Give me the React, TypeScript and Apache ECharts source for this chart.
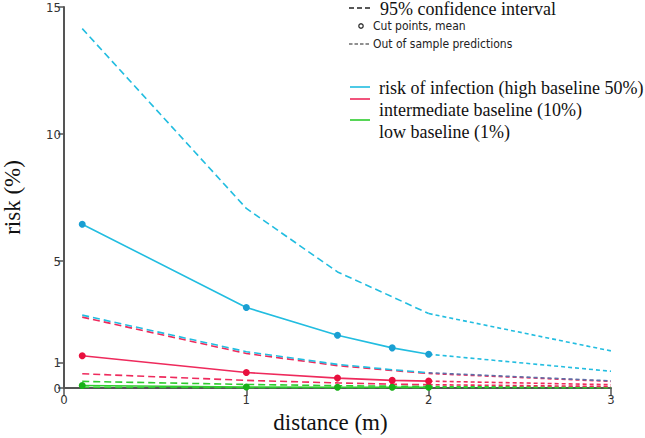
import React, { useEffect, useRef } from "react";
import * as echarts from "echarts";

const cutPoints = [0.1, 1, 1.5, 1.8, 2];
const outPoints = [2, 3];

const highMean = [6.45, 3.17, 2.08, 1.58, 1.33];
const highMeanOut = [1.33, 0.66];
const highUpper = [14.15, 7.07, 4.57, 3.59, 2.93];
const highUpperOut = [2.93, 1.46];
const highLower = [2.87, 1.43, 0.93, 0.72, 0.6];
const highLowerOut = [0.6, 0.28];

const midMean = [1.27, 0.61, 0.39, 0.3, 0.27];
const midMeanOut = [0.27, 0.13];
const midUpper = [2.79, 1.36, 0.88, 0.69, 0.57];
const midUpperOut = [0.57, 0.26];
const midLower = [0.56, 0.3, 0.2, 0.15, 0.13];
const midLowerOut = [0.13, 0.06];

const lowMean = [0.1, 0.04, 0.03, 0.03, 0.03];
const lowMeanOut = [0.03, 0.01];
const lowUpper = [0.26, 0.14, 0.09, 0.07, 0.06];
const lowUpperOut = [0.06, 0.03];
const lowLower = [0.03, 0.01, 0.01, 0.01, 0.01];
const lowLowerOut = [0.01, 0.0];

const yTicks = [0, 1, 5, 10, 15];
const xTicks = [0, 1, 2, 3];

const legendTop = ["95% confidence interval", "Cut points, mean", "Out of sample predictions"];
const legendSeries = [
  "risk of infection (high baseline 50%)",
  "intermediate baseline (10%)",
  "low baseline (1%)",
];

const BLUE = "#22bde0";
const BLUE_PT = "#1a9fd2";
const RED = "#ee2a5c";
const RED_PT = "#e8103e";
const GREEN = "#2ecc2e";
const GREEN_PT = "#18b018";

const SERIF = "Liberation Serif, Times New Roman, serif";
const NARROW = "Liberation Sans Narrow, DejaVu Sans Condensed, sans-serif";

const zip = (xs: number[], ys: number[]) => xs.map((x, i) => [x, ys[i]]);

function meanSeries(name: string, ys: number[], color: string, pt: string) {
  return {
    name,
    type: "line",
    data: zip(cutPoints, ys),
    symbol: "circle",
    symbolSize: 7,
    showSymbol: true,
    lineStyle: { color, width: 1.6 },
    itemStyle: { color: pt },
    z: 5,
  };
}
function dashSeries(name: string, ys: number[], color: string, width = 1.6) {
  return {
    name,
    type: "line",
    data: zip(cutPoints, ys),
    symbol: "none",
    lineStyle: { color, width, type: [7, 4] },
    z: 3,
  };
}
function dotSeries(name: string, ys: number[], color: string, width = 1.6) {
  return {
    name,
    type: "line",
    data: zip(outPoints, ys),
    symbol: "none",
    lineStyle: { color, width, type: [4, 3] },
    z: 3,
  };
}

export default function App() {
  const ref = useRef<HTMLDivElement>(null);
  useEffect(() => {
    if (!ref.current) return;
    const chart = echarts.init(ref.current, null, { renderer: "svg" });
    const option = {
      animation: false,
      backgroundColor: "#ffffff",
      grid: { left: 64, right: 34, top: 7, bottom: 50, outerBoundsMode: "none", containLabel: false },
      xAxis: {
        type: "value",
        min: 0,
        max: 3,
        interval: 1,
        name: "distance (m)",
        nameLocation: "middle",
        nameGap: 23,
        nameTextStyle: { fontFamily: SERIF, fontSize: 23, color: "#111", padding: [0, 14, 0, 0] },
        axisLine: { show: true, lineStyle: { color: "#555", width: 2 } },
        axisTick: { show: true, inside: false, length: 8, lineStyle: { color: "#555", width: 1.5 } },
        axisLabel: {
          fontFamily: NARROW,
          fontSize: 13,
          color: "#333",
          margin: 5,
          customValues: xTicks,
        },
        splitLine: { show: false },
      },
      yAxis: {
        type: "value",
        min: 0,
        max: 15,
        name: "risk (%)",
        nameLocation: "middle",
        nameGap: 40,
        nameTextStyle: { fontFamily: SERIF, fontSize: 23, color: "#111" },
        axisLine: { show: true, lineStyle: { color: "#555", width: 2 } },
        axisTick: { show: true, length: 6, customValues: yTicks, lineStyle: { color: "#555", width: 1.5 } },
        axisLabel: {
          fontFamily: NARROW,
          fontSize: 13,
          color: "#333",
          margin: 3,
          customValues: yTicks,
        },
        splitLine: { show: false },
      },
      series: [
        dashSeries("low lower", lowLower, GREEN),
        dotSeries("low lower out", lowLowerOut, "#2a8a2a"),
        dashSeries("low upper", lowUpper, GREEN),
        dotSeries("low upper out", lowUpperOut, GREEN),
        dotSeries("low mean out", lowMeanOut, GREEN),
        meanSeries("low mean", lowMean, GREEN, GREEN_PT),
        dashSeries("mid lower", midLower, RED),
        dotSeries("mid lower out", midLowerOut, RED),
        dashSeries("mid upper", midUpper, RED),
        dotSeries("mid upper out", midUpperOut, RED),
        dotSeries("mid mean out", midMeanOut, RED),
        meanSeries("mid mean", midMean, RED, RED_PT),
        dashSeries("high lower", highLower, BLUE),
        dotSeries("high lower out", highLowerOut, "#5a6fa8"),
        dashSeries("high upper", highUpper, BLUE),
        dotSeries("high upper out", highUpperOut, BLUE),
        dotSeries("high mean out", highMeanOut, BLUE),
        meanSeries("high mean", highMean, BLUE, BLUE_PT),
      ],
      graphic: [
        { type: "line", shape: { x1: 349, y1: 8, x2: 371, y2: 8 }, style: { stroke: "#222", lineWidth: 1.4, lineDash: [5, 3] } },
        { type: "text", x: 380, y: 9, style: { text: legendTop[0], font: `18px ${SERIF}`, fill: "#111", verticalAlign: "middle" } },
        { type: "circle", shape: { cx: 361, cy: 26, r: 2.2 }, style: { fill: "#fff", stroke: "#333", lineWidth: 1.3 } },
        { type: "text", x: 373, y: 26, style: { text: legendTop[1], font: `12px ${NARROW}`, fill: "#222", verticalAlign: "middle" } },
        { type: "line", shape: { x1: 349, y1: 44, x2: 370, y2: 44 }, style: { stroke: "#222", lineWidth: 1.2, lineDash: [3.5, 2] } },
        { type: "text", x: 373, y: 44, style: { text: legendTop[2], font: `12px ${NARROW}`, fill: "#222", verticalAlign: "middle" } },
        { type: "line", shape: { x1: 350, y1: 87, x2: 370, y2: 87 }, style: { stroke: BLUE, lineWidth: 1.6 } },
        { type: "text", x: 379, y: 88, style: { text: legendSeries[0], font: `18px ${SERIF}`, fill: "#111", verticalAlign: "middle" } },
        { type: "line", shape: { x1: 350, y1: 99, x2: 370, y2: 99 }, style: { stroke: RED, lineWidth: 1.6 } },
        { type: "text", x: 379, y: 110, style: { text: legendSeries[1], font: `18px ${SERIF}`, fill: "#111", verticalAlign: "middle" } },
        { type: "line", shape: { x1: 350, y1: 120, x2: 370, y2: 120 }, style: { stroke: GREEN, lineWidth: 1.6 } },
        { type: "text", x: 379, y: 132, style: { text: legendSeries[2], font: `18px ${SERIF}`, fill: "#111", verticalAlign: "middle" } },
      ],
    };
    chart.setOption(option as any);
    return () => chart.dispose();
  }, []);
  return <div ref={ref} style={{ width: 645, height: 438, position: "absolute", left: 0, top: 0 }} />;
}
